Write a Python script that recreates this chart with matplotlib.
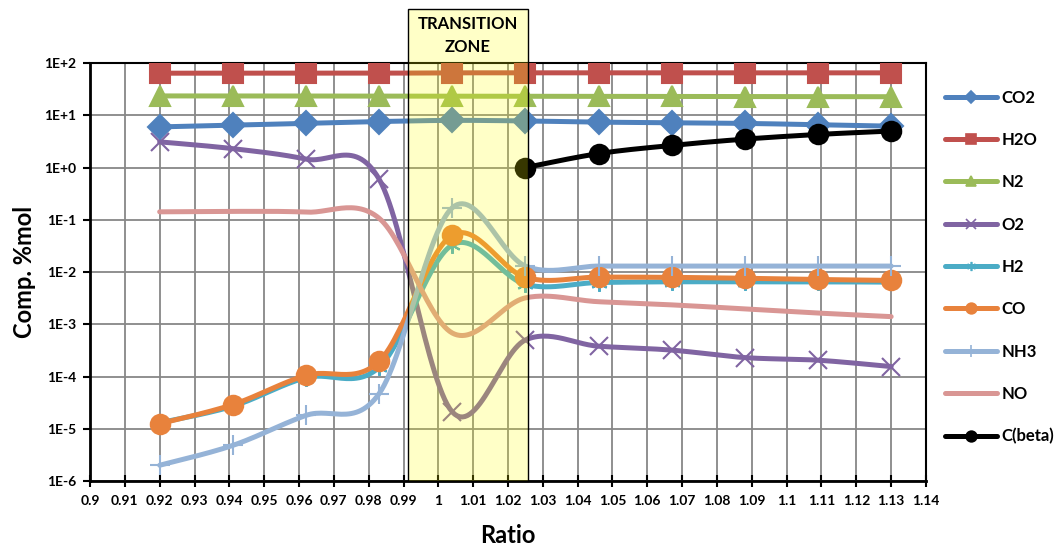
import numpy as np
import matplotlib.pyplot as plt
from matplotlib.patches import Rectangle

plt.rcParams['font.family'] = ['Lato', 'DejaVu Sans']
plt.rcParams['font.weight'] = 'bold'

# equivalence ratio points
ratio = [0.92, 0.941, 0.962, 0.983, 1.004, 1.025, 1.046, 1.067, 1.088, 1.109, 1.13]
co2 = [6.0, 6.5, 7.0, 7.6, 8.0, 7.8, 7.4, 7.2, 7.0, 6.6, 6.2]
h2o = [64, 64, 64, 64, 65, 65, 65, 65, 65, 65, 65]
n2 = [23.5, 23.5, 23.4, 23.3, 23.2, 23.2, 23.0, 23.0, 22.9, 22.8, 22.7]
o2 = [3.1, 2.3, 1.45, 0.6, 2.1e-5, 5.0e-4, 3.8e-4, 3.2e-4, 2.3e-4, 2.05e-4, 1.55e-4]
h2 = [1.3e-5, 2.7e-5, 9.5e-5, 1.5e-4, 3.3e-2, 5.8e-3, 6.3e-3, 6.5e-3, 6.5e-3, 6.5e-3, 6.4e-3]
co = [1.25e-5, 2.9e-5, 1.05e-4, 1.95e-4, 5.1e-2, 7.9e-3, 8.0e-3, 7.9e-3, 7.6e-3, 7.2e-3, 6.9e-3]
nh3 = [2.0e-6, 4.8e-6, 1.8e-5, 4.7e-5, 1.7e-1, 1.3e-2, 1.3e-2, 1.3e-2, 1.3e-2, 1.3e-2, 1.3e-2]
no = [0.142, 0.145, 0.14, 0.107, 6.8e-4, 3.2e-3, 2.7e-3, 2.35e-3, 1.97e-3, 1.64e-3, 1.4e-3]
ratio_c = [1.025, 1.046, 1.067, 1.088, 1.109, 1.13]
cbeta = [1.0, 1.85, 2.65, 3.5, 4.3, 5.0]

zone = (0.9913, 1.0258)


def smooth(xs, ys, n=30):
    # excel style smoothed line: bezier with catmull-rom handles, in log space
    x = np.asarray(xs, float)
    y = np.log10(np.asarray(ys, float))
    px, py = [x[0]], [y[0]]
    m = len(x)
    for i in range(m - 1):
        x0, y0 = (x[i - 1], y[i - 1]) if i > 0 else (x[i], y[i])
        x3, y3 = (x[i + 2], y[i + 2]) if i + 2 < m else (x[i + 1], y[i + 1])
        c1x = x[i] + (x[i + 1] - x0) / 6
        c1y = y[i] + (y[i + 1] - y0) / 6
        c2x = x[i + 1] - (x3 - x[i]) / 6
        c2y = y[i + 1] - (y3 - y[i]) / 6
        t = np.linspace(0, 1, n)[1:]
        a, b, c, d = (1 - t) ** 3, 3 * t * (1 - t) ** 2, 3 * t ** 2 * (1 - t), t ** 3
        px.extend(a * x[i] + b * c1x + c * c2x + d * x[i + 1])
        py.extend(a * y[i] + b * c1y + c * c2y + d * y[i + 1])
    return np.array(px), 10 ** np.array(py)


fig = plt.figure(figsize=(10.59, 5.47), dpi=100)
ax = fig.add_axes([0.085, 0.1207, 0.7894, 0.764])

series = [
    ('CO2', ratio, co2, '#4f81bd', 'D', 12, 'full'),
    ('H2O', ratio, h2o, '#c0504d', 's', 14, 'full'),
    ('N2', ratio, n2, '#9bbb59', '^', 14, 'full'),
    ('O2', ratio, o2, '#8064a2', 'x', 13, 'full'),
    ('H2', ratio, h2, '#4bacc6', (6, 2, 0), 12, 'full'),
    ('CO', ratio, co, '#e8823c', 'o', 14, 'full'),
    ('NH3', ratio, nh3, '#95b3d7', '+', 15, 'full'),
    ('NO', ratio, no, '#d99694', None, 0, 'full'),
    ('C(beta)', ratio_c, cbeta, 'black', 'o', 14, 'full'),
]

handles = []
for name, xs, ys, col, mk, ms, _ in series:
    sx, sy = smooth(xs, ys)
    ax.plot(sx, sy, color=col, lw=3.6, solid_capstyle='round', zorder=3)
    if mk is not None:
        ax.plot(xs, ys, ls='none', marker=mk, ms=ms, color=col, mec=col,
                mew=1.5, zorder=4)
    h, = ax.plot([], [], color=col, lw=3.6, solid_capstyle='round',
                 marker=mk, ms=ms * 0.55, mec=col, mew=1.2)
    handles.append(h)

ax.set_yscale('log')
ax.set_ylim(1e-6, 1e2)
ax.set_xlim(0.9, 1.14)
xt = np.round(np.arange(0.9, 1.1401, 0.01), 2)
ax.set_xticks(xt)
ax.set_xticklabels(['%g' % v for v in xt])
ax.set_yticks([10.0 ** k for k in range(-6, 3)])
ax.set_yticklabels(['1E+%d' % k if k >= 0 else '1E%d' % k for k in range(-6, 3)])
ax.minorticks_off()
ax.tick_params(axis='both', labelsize=10, width=1.5, colors='black')
ax.tick_params(axis='x', direction='inout', length=8, pad=6)
ax.tick_params(axis='y', direction='out', length=5, pad=5)
for lab in ax.get_xticklabels() + ax.get_yticklabels():
    lab.set_fontweight('bold')
ax.grid(True, color='#878787', lw=1.3, zorder=0)
ax.set_axisbelow(True)
for s in ['left', 'bottom']:
    ax.spines[s].set_linewidth(2)
for s in ['top', 'right']:
    ax.spines[s].set_linewidth(1.5)

ax.set_xlabel('Ratio', fontsize=17, fontweight='bold', labelpad=12)
ax.set_ylabel('Comp. %mol', fontsize=17, fontweight='bold', labelpad=6)

# transition zone box, reaching above the plot area
top = 10 ** 3.03
ax.add_patch(Rectangle((zone[0], 1e-6), zone[1] - zone[0], top - 1e-6,
                       facecolor='#ffff00', alpha=0.22, edgecolor='none',
                       zorder=5, clip_on=False))
ax.add_patch(Rectangle((zone[0], 1e-6), zone[1] - zone[0], top - 1e-6,
                       facecolor='none', edgecolor='black', lw=1.0,
                       zorder=6, clip_on=False))
ax.text((zone[0] + zone[1]) / 2, 10 ** 2.91, 'TRANSITION\nZONE', ha='center',
        va='top', fontsize=12, fontweight='bold', linespacing=1.6, zorder=7)

leg = ax.legend(handles, [s[0] for s in series], loc='center left',
                bbox_to_anchor=(1.005, 0.512), frameon=False, fontsize=12,
                labelspacing=1.58, handlelength=3.1, handletextpad=0.3)
for t in leg.get_texts():
    t.set_fontweight('bold')

fig.savefig('out.png', dpi=100)
